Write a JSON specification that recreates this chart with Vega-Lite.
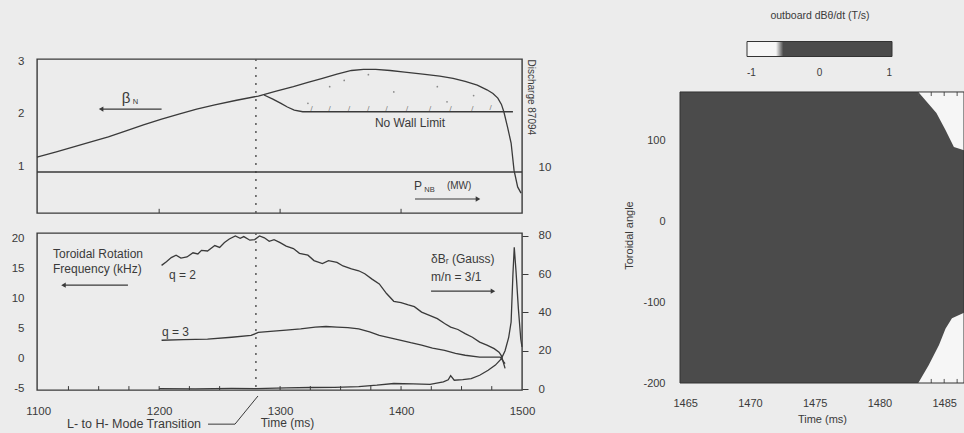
{
  "$schema": "https://vega.github.io/schema/vega-lite/v6.json",
  "background": "#ececec",
  "padding": {"left": 10, "top": 11, "right": 0, "bottom": 4},
  "config": {
    "font": "Liberation Sans",
    "view": {"stroke": "#3a3a3a", "strokeWidth": 1.4},
    "axis": {"grid": false, "domain": false, "labelColor": "#3a3a3a", "titleColor": "#3a3a3a", "labelFontSize": 11.5, "titleFontSize": 12, "titleFontWeight": "normal", "tickColor": "#3a3a3a", "labelFont": "Liberation Sans", "titleFont": "Liberation Sans", "labelOverlap": false, "labelFlush": false},
    "text": {"font": "Liberation Sans", "color": "#3a3a3a"}
  },
  "datasets": {
    "beta": [{"t":1099,"b":1.17},{"t":1115,"b":1.27},{"t":1130,"b":1.37},{"t":1145,"b":1.47},{"t":1158,"b":1.56},{"t":1172,"b":1.67},{"t":1187,"b":1.79},{"t":1202,"b":1.90},{"t":1217,"b":2.00},{"t":1231,"b":2.09},{"t":1246,"b":2.17},{"t":1264,"b":2.26},{"t":1282,"b":2.34},{"t":1296,"b":2.43},{"t":1311,"b":2.52},{"t":1323,"b":2.60},{"t":1335,"b":2.68},{"t":1347,"b":2.76},{"t":1359,"b":2.83},{"t":1369,"b":2.85},{"t":1379,"b":2.85},{"t":1391,"b":2.83},{"t":1403,"b":2.80},{"t":1418,"b":2.76},{"t":1432,"b":2.72},{"t":1443,"b":2.68},{"t":1453,"b":2.62},{"t":1463,"b":2.55},{"t":1471,"b":2.46},{"t":1476,"b":2.39},{"t":1480,"b":2.30},{"t":1483,"b":2.18},{"t":1485,"b":2.04},{"t":1488,"b":1.75},{"t":1491,"b":1.44},{"t":1493.4,"b":0.92},{"t":1496.4,"b":0.60},{"t":1499.2,"b":0.48}],
    "nowall": [{"t":1286.7,"b":2.36},{"t":1294,"b":2.28},{"t":1300.7,"b":2.20},{"t":1306,"b":2.13},{"t":1311.7,"b":2.07},{"t":1318.7,"b":2.04},{"t":1492.5,"b":2.04}],
    "pnb": [{"t":1099,"p":9.1},{"t":1500,"p":9.1}],
    "hatch": [{"t":1326,"b":2.10},{"t":1341,"b":2.10},{"t":1357,"b":2.10},{"t":1373,"b":2.10},{"t":1388,"b":2.10},{"t":1405,"b":2.10},{"t":1424,"b":2.10},{"t":1441,"b":2.10},{"t":1459,"b":2.10},{"t":1474,"b":2.11}],
    "dots": [{"t":1353,"b":2.64},{"t":1341,"b":2.52},{"t":1394,"b":2.42},{"t":1430,"b":2.52},{"t":1438,"b":2.23},{"t":1323,"b":2.20},{"t":1373,"b":2.75},{"t":1460,"b":2.35}],
    "lh": [{"t":1280}],
    "topTicks": [{"t":1200,"b0":0.1,"b1":0.18},{"t":1300,"b0":0.1,"b1":0.18},{"t":1400,"b0":0.1,"b1":0.18}],
    "botTicks": [{"t":1125,"f0":-5.2,"f1":-4.55},{"t":1150,"f0":-5.2,"f1":-4.55},{"t":1175,"f0":-5.2,"f1":-4.55},{"t":1200,"f0":-5.2,"f1":-4.55},{"t":1225,"f0":-5.2,"f1":-4.55},{"t":1250,"f0":-5.2,"f1":-4.55},{"t":1300,"f0":-5.2,"f1":-4.55},{"t":1325,"f0":-5.2,"f1":-4.55},{"t":1350,"f0":-5.2,"f1":-4.55},{"t":1375,"f0":-5.2,"f1":-4.55},{"t":1400,"f0":-5.2,"f1":-4.55},{"t":1425,"f0":-5.2,"f1":-4.55},{"t":1450,"f0":-5.2,"f1":-4.55},{"t":1475,"f0":-5.2,"f1":-4.55}],
    "topBig": [{"t":1407.4,"b":1.82,"label":"No Wall Limit"},{"t":1414,"b":0.62,"label":"P"}],
    "topMid": [{"t":1448,"b":0.62,"label":"(MW)"}],
    "topSub": [{"t":1180.5,"b":2.22,"label":"N"},{"t":1423.5,"b":0.54,"label":"NB"}],
    "topBeta": [{"t":1172.6,"b":2.30,"label":"β"}],
    "topArrowL": [{"t":1152,"t2":1202,"b":2.09}],
    "topArrowR": [{"t":1411.5,"t2":1463.6,"b":0.368}],
    "q2": [{"t":1202,"f":15.6},{"t":1206,"f":16.2},{"t":1210,"f":16.9},{"t":1214,"f":17.3},{"t":1218,"f":16.8},{"t":1223,"f":17.0},{"t":1228,"f":17.7},{"t":1232,"f":17.5},{"t":1235,"f":18.1},{"t":1240,"f":18.0},{"t":1246,"f":18.9},{"t":1250,"f":18.6},{"t":1254,"f":19.4},{"t":1258,"f":20.0},{"t":1263,"f":20.5},{"t":1267,"f":20.1},{"t":1270,"f":20.4},{"t":1275,"f":19.8},{"t":1279,"f":19.9},{"t":1283,"f":20.5},{"t":1287,"f":20.2},{"t":1291,"f":19.6},{"t":1295,"f":19.9},{"t":1300,"f":19.4},{"t":1305,"f":18.8},{"t":1311,"f":18.4},{"t":1316,"f":17.6},{"t":1323,"f":17.3},{"t":1328,"f":16.4},{"t":1335,"f":15.9},{"t":1340,"f":16.4},{"t":1347,"f":16.1},{"t":1352,"f":15.5},{"t":1359,"f":15.0},{"t":1365,"f":14.7},{"t":1370,"f":14.2},{"t":1376,"f":13.3},{"t":1382,"f":12.5},{"t":1388,"f":10.9},{"t":1394,"f":9.6},{"t":1400,"f":9.4},{"t":1406,"f":9.0},{"t":1411,"f":8.7},{"t":1417,"f":7.8},{"t":1423,"f":7.3},{"t":1430,"f":6.7},{"t":1436,"f":5.9},{"t":1441,"f":5.3},{"t":1447,"f":4.9},{"t":1453,"f":4.2},{"t":1459,"f":3.6},{"t":1465,"f":2.8},{"t":1471,"f":2.3},{"t":1477,"f":1.7},{"t":1481,"f":1.1},{"t":1483,"f":0.5},{"t":1486,"f":-1.6}],
    "q3": [{"t":1202,"f":3.1},{"t":1220,"f":3.2},{"t":1240,"f":3.3},{"t":1260,"f":3.6},{"t":1276,"f":3.9},{"t":1282,"f":4.4},{"t":1292,"f":4.6},{"t":1305,"f":4.8},{"t":1317,"f":5.0},{"t":1329,"f":5.3},{"t":1338,"f":5.4},{"t":1347,"f":5.3},{"t":1356,"f":5.2},{"t":1365,"f":5.0},{"t":1374,"f":4.5},{"t":1382,"f":3.9},{"t":1391,"f":3.5},{"t":1400,"f":3.1},{"t":1408,"f":2.7},{"t":1417,"f":2.3},{"t":1426,"f":1.8},{"t":1436,"f":1.4},{"t":1445,"f":0.9},{"t":1453,"f":0.6},{"t":1465,"f":0.3},{"t":1477,"f":0.3},{"t":1482,"f":0.3},{"t":1486,"f":-0.8}],
    "dbr": [{"t":1200,"g":0.2},{"t":1230,"g":0.1},{"t":1260,"g":0.3},{"t":1280,"g":0.2},{"t":1305,"g":0.6},{"t":1325,"g":0.8},{"t":1345,"g":0.9},{"t":1365,"g":1.3},{"t":1380,"g":2.0},{"t":1394,"g":2.9},{"t":1410,"g":2.7},{"t":1424,"g":2.4},{"t":1435,"g":3.7},{"t":1439,"g":4.8},{"t":1441,"g":7.0},{"t":1444,"g":4.6},{"t":1451,"g":4.9},{"t":1458,"g":5.4},{"t":1465,"g":7.2},{"t":1472,"g":9.8},{"t":1478,"g":12.5},{"t":1483,"g":15.9},{"t":1486,"g":20},{"t":1489,"g":27},{"t":1491,"g":35},{"t":1492.5,"g":60},{"t":1493.6,"g":74},{"t":1495,"g":62},{"t":1497,"g":42},{"t":1499,"g":26},{"t":1500,"g":22}],
    "botText": [{"t":1112.2,"f":17.5,"label":"Toroidal Rotation"},{"t":1112.2,"f":15.0,"label":"Frequency (kHz)"},{"t":1208.1,"f":14.0,"label":"q = 2"},{"t":1202.3,"f":4.5,"label":"q = 3"},{"t":1424.8,"f":16.7,"label":"δBᵣ (Gauss)"},{"t":1424.8,"f":13.65,"label":"m/n = 3/1"}],
    "botBelow": [{"t":1179.2,"f":-10.9,"label":"L- to H- Mode Transition"}],
    "leader": [{"t":1240.4,"f":-10.9},{"t":1262.7,"f":-10.9},{"t":1281.7,"f":-6.2}],
    "botArrowL": [{"t":1120.9,"t2":1174.2,"f":12.3}],
    "botArrowR": [{"t":1424.8,"t2":1476,"f":11.3}],
    "dark": [{"t0":1464.6,"t1":1486.53,"a0":-200,"a1":160,"v":1}],
    "heatTicks": [{"t":1483,"a0":155,"a1":160},{"t":1484,"a0":155,"a1":160},{"t":1485,"a0":155,"a1":160},{"t":1486,"a0":155,"a1":160},{"t":1484,"a0":-200,"a1":-195},{"t":1485,"a0":-200,"a1":-195},{"t":1486,"a0":-200,"a1":-195}],
    "wtop": [{"t":1483.0,"a":160,"a2":160,"v":-1},{"t":1483.7,"a":147,"a2":160,"v":-1},{"t":1484.4,"a":134,"a2":160,"v":-1},{"t":1485.1,"a":113,"a2":160,"v":-1},{"t":1485.75,"a":92,"a2":160,"v":-1},{"t":1486.53,"a":88,"a2":160,"v":-1}],
    "wbot": [{"t":1483.0,"a":-200,"a2":-200,"v":-1},{"t":1483.8,"a":-178,"a2":-200,"v":-1},{"t":1484.6,"a":-153,"a2":-200,"v":-1},{"t":1485.1,"a":-133,"a2":-200,"v":-1},{"t":1485.6,"a":-120,"a2":-200,"v":-1},{"t":1486.53,"a":-113,"a2":-200,"v":-1}]
  },
  "spacing": 71,
  "resolve": {"scale": {"color": "independent"}, "legend": {"color": "independent"}},
  "hconcat": [
    {
      "spacing": 14,
      "vconcat": [
        {
          "width": 485,
          "height": 154,
          "resolve": {"scale": {"y": "independent"}},
          "layer": [
            {
              "layer": [
                {"data": {"name": "beta"}, "mark": {"type": "line", "color": "#3a3a3a", "strokeWidth": 1.3},
                 "encoding": {
                   "x": {"field": "t", "type": "quantitative", "scale": {"domain": [1099, 1500], "nice": false, "zero": false}, "axis": null},
                   "y": {"field": "b", "type": "quantitative", "scale": {"domain": [0.1, 3.05], "nice": false, "zero": false}, "axis": {"values": [1, 2, 3], "tickCount": 12, "labelExpr": "'' + datum.value", "ticks": false, "labelPadding": 13, "labelOverlap": false, "title": null}}}},
                {"data": {"name": "nowall"}, "mark": {"type": "line", "color": "#3a3a3a", "strokeWidth": 1.3},
                 "encoding": {"x": {"field": "t", "type": "quantitative"}, "y": {"field": "b", "type": "quantitative"}}},
                {"data": {"name": "hatch"}, "mark": {"type": "text", "text": "/", "fontSize": 8, "color": "#7a7a7a"},
                 "encoding": {"x": {"field": "t", "type": "quantitative"}, "y": {"field": "b", "type": "quantitative"}}},
                {"data": {"name": "dots"}, "mark": {"type": "circle", "size": 3, "color": "#8a8a8a", "opacity": 1},
                 "encoding": {"x": {"field": "t", "type": "quantitative"}, "y": {"field": "b", "type": "quantitative"}}},
                {"data": {"name": "topTicks"}, "mark": {"type": "rule", "color": "#3a3a3a", "strokeWidth": 1},
                 "encoding": {"x": {"field": "t", "type": "quantitative"}, "y": {"field": "b0", "type": "quantitative"}, "y2": {"field": "b1"}}},
                {"data": {"name": "lh"}, "mark": {"type": "rule", "color": "#555555", "strokeWidth": 1.5, "strokeDash": [2, 6]},
                 "encoding": {"x": {"field": "t", "type": "quantitative"}}},
                {"data": {"name": "topBig"}, "mark": {"type": "text", "fontSize": 12, "align": "center", "baseline": "middle"},
                 "encoding": {"x": {"field": "t", "type": "quantitative"}, "y": {"field": "b", "type": "quantitative"}, "text": {"field": "label"}}},
                {"data": {"name": "topMid"}, "mark": {"type": "text", "fontSize": 10, "align": "center", "baseline": "middle"},
                 "encoding": {"x": {"field": "t", "type": "quantitative"}, "y": {"field": "b", "type": "quantitative"}, "text": {"field": "label"}}},
                {"data": {"name": "topSub"}, "mark": {"type": "text", "fontSize": 7.5, "align": "center", "baseline": "middle"},
                 "encoding": {"x": {"field": "t", "type": "quantitative"}, "y": {"field": "b", "type": "quantitative"}, "text": {"field": "label"}}},
                {"data": {"name": "topBeta"}, "mark": {"type": "text", "fontSize": 15, "align": "center", "baseline": "middle"},
                 "encoding": {"x": {"field": "t", "type": "quantitative"}, "y": {"field": "b", "type": "quantitative"}, "text": {"field": "label"}}},
                {"data": {"name": "topArrowL"}, "mark": {"type": "rule", "color": "#3a3a3a", "strokeWidth": 1.2},
                 "encoding": {"x": {"field": "t", "type": "quantitative"}, "x2": {"field": "t2"}, "y": {"field": "b", "type": "quantitative"}}},
                {"data": {"name": "topArrowL"}, "mark": {"type": "point", "shape": "triangle-left", "filled": true, "size": 28, "color": "#3a3a3a", "opacity": 1},
                 "encoding": {"x": {"field": "t", "type": "quantitative"}, "y": {"field": "b", "type": "quantitative"}}},
                {"data": {"name": "topArrowR"}, "mark": {"type": "rule", "color": "#3a3a3a", "strokeWidth": 1.2},
                 "encoding": {"x": {"field": "t", "type": "quantitative"}, "x2": {"field": "t2"}, "y": {"field": "b", "type": "quantitative"}}},
                {"data": {"name": "topArrowR"}, "mark": {"type": "point", "shape": "triangle-right", "filled": true, "size": 28, "color": "#3a3a3a", "opacity": 1},
                 "encoding": {"x": {"field": "t2", "type": "quantitative"}, "y": {"field": "b", "type": "quantitative"}}}
              ]
            },
            {"data": {"name": "pnb"}, "mark": {"type": "line", "color": "#3a3a3a", "strokeWidth": 1.3},
             "encoding": {
               "x": {"field": "t", "type": "quantitative"},
               "y": {"field": "p", "type": "quantitative", "scale": {"domain": [0, 34.2], "nice": false, "zero": false}, "axis": {"orient": "right", "values": [10], "ticks": false, "labelPadding": 16, "title": "Discharge 87094", "titleFontSize": 10, "titleAngle": 90, "titleAlign": "left", "titleBaseline": "bottom", "titleX": 3, "titleY": 0}}}}
          ]
        },
        {
          "width": 485,
          "height": 157,
          "resolve": {"scale": {"y": "independent"}},
          "layer": [
            {
              "layer": [
                {"data": {"name": "q2"}, "mark": {"type": "line", "color": "#3a3a3a", "strokeWidth": 1.3},
                 "encoding": {
                   "x": {"field": "t", "type": "quantitative", "scale": {"domain": [1099, 1500], "nice": false, "zero": false}, "axis": {"values": [1100, 1200, 1300, 1400, 1500], "tickCount": 12, "format": "d", "ticks": false, "labelPadding": 15, "labelOverlap": false, "title": "Time (ms)", "titlePadding": 1, "titleX": 250}},
                   "y": {"field": "f", "type": "quantitative", "scale": {"domain": [-5.2, 21.0], "nice": false, "zero": false}, "axis": {"values": [-5, 0, 5, 10, 15, 20], "tickCount": 12, "labelExpr": "'' + datum.value", "ticks": false, "labelPadding": 13, "labelOverlap": false, "title": null}}}},
                {"data": {"name": "q3"}, "mark": {"type": "line", "color": "#3a3a3a", "strokeWidth": 1.3},
                 "encoding": {"x": {"field": "t", "type": "quantitative"}, "y": {"field": "f", "type": "quantitative"}}},
                {"data": {"name": "botTicks"}, "mark": {"type": "rule", "color": "#3a3a3a", "strokeWidth": 1},
                 "encoding": {"x": {"field": "t", "type": "quantitative"}, "y": {"field": "f0", "type": "quantitative"}, "y2": {"field": "f1"}}},
                {"data": {"name": "lh"}, "mark": {"type": "rule", "color": "#555555", "strokeWidth": 1.5, "strokeDash": [2, 6]},
                 "encoding": {"x": {"field": "t", "type": "quantitative"}}},
                {"data": {"name": "botText"}, "mark": {"type": "text", "fontSize": 12, "align": "left", "baseline": "middle"},
                 "encoding": {"x": {"field": "t", "type": "quantitative"}, "y": {"field": "f", "type": "quantitative"}, "text": {"field": "label"}}},
                {"data": {"name": "botBelow"}, "mark": {"type": "text", "fontSize": 12.5, "align": "center", "baseline": "middle"},
                 "encoding": {"x": {"field": "t", "type": "quantitative"}, "y": {"field": "f", "type": "quantitative"}, "text": {"field": "label"}}},
                {"data": {"name": "leader"}, "mark": {"type": "line", "color": "#3a3a3a", "strokeWidth": 1},
                 "encoding": {"x": {"field": "t", "type": "quantitative"}, "y": {"field": "f", "type": "quantitative"}}},
                {"data": {"name": "botArrowL"}, "mark": {"type": "rule", "color": "#3a3a3a", "strokeWidth": 1.2},
                 "encoding": {"x": {"field": "t", "type": "quantitative"}, "x2": {"field": "t2"}, "y": {"field": "f", "type": "quantitative"}}},
                {"data": {"name": "botArrowL"}, "mark": {"type": "point", "shape": "triangle-left", "filled": true, "size": 28, "color": "#3a3a3a", "opacity": 1},
                 "encoding": {"x": {"field": "t", "type": "quantitative"}, "y": {"field": "f", "type": "quantitative"}}},
                {"data": {"name": "botArrowR"}, "mark": {"type": "rule", "color": "#3a3a3a", "strokeWidth": 1.2},
                 "encoding": {"x": {"field": "t", "type": "quantitative"}, "x2": {"field": "t2"}, "y": {"field": "f", "type": "quantitative"}}},
                {"data": {"name": "botArrowR"}, "mark": {"type": "point", "shape": "triangle-right", "filled": true, "size": 28, "color": "#3a3a3a", "opacity": 1},
                 "encoding": {"x": {"field": "t2", "type": "quantitative"}, "y": {"field": "f", "type": "quantitative"}}}
              ]
            },
            {"data": {"name": "dbr"}, "mark": {"type": "line", "color": "#3a3a3a", "strokeWidth": 1.3},
             "encoding": {
               "x": {"field": "t", "type": "quantitative"},
               "y": {"field": "g", "type": "quantitative", "scale": {"domain": [-0.5, 81.5], "nice": false, "zero": false}, "axis": {"orient": "right", "values": [0, 20, 40, 60, 80], "tickCount": 12, "tickSize": 6, "labelPadding": 10, "labelOverlap": false, "title": null}}}}
          ]
        }
      ]
    },
    {
      "width": 284,
      "height": 324,
      "view": {"stroke": null},
      "layer": [
        {"data": {"name": "dark"}, "mark": {"type": "rect"},
         "encoding": {
           "x": {"field": "t0", "type": "quantitative", "scale": {"domain": [1464.6, 1486.53], "nice": false, "zero": false}, "axis": {"values": [1465, 1470, 1475, 1480, 1485], "tickCount": 12, "format": "d", "ticks": false, "labelPadding": 14, "labelFontSize": 11, "title": "Time (ms)", "titleFontSize": 11, "titlePadding": 5}},
           "x2": {"field": "t1"},
           "y": {"field": "a0", "type": "quantitative", "scale": {"domain": [-200, 200.8], "nice": false, "zero": false}, "axis": {"values": [-200, -100, 0, 100], "tickCount": 12, "labelExpr": "'' + datum.value", "ticks": false, "labelPadding": 15, "labelFontSize": 11, "title": "Toroidal angle", "titleFontSize": 11, "titleY": 176, "titlePadding": 8}},
           "y2": {"field": "a1"},
           "color": {"field": "v", "type": "quantitative", "scale": {"domain": [-1, -0.6, -0.5, 1], "range": ["#f6f6f6", "#f6f6f6", "#4b4b4b", "#4b4b4b"]},
             "legend": {"orient": "none", "legendX": 67, "legendY": -48, "direction": "horizontal", "gradientLength": 145, "gradientThickness": 15, "values": [-1, 0, 1], "labelExpr": "'' + datum.value", "title": "outboard dBθ/dt  (T/s)", "titleFontSize": 10.5, "titleFontWeight": "normal", "titleAnchor": "middle", "titlePadding": 20, "labelFontSize": 10, "gradientStrokeColor": "#333333", "gradientStrokeWidth": 1, "padding": 0, "labelOffset": 11, "titleColor": "#3a3a3a", "labelColor": "#3a3a3a"}}}},
        {"data": {"name": "wtop"}, "mark": {"type": "area", "opacity": 1},
         "encoding": {"x": {"field": "t", "type": "quantitative"}, "y": {"field": "a", "type": "quantitative"}, "y2": {"field": "a2"}, "color": {"field": "v", "type": "quantitative", "legend": null}}},
        {"data": {"name": "wbot"}, "mark": {"type": "area", "opacity": 1},
         "encoding": {"x": {"field": "t", "type": "quantitative"}, "y": {"field": "a", "type": "quantitative"}, "y2": {"field": "a2"}, "color": {"field": "v", "type": "quantitative", "legend": null}}},
        {"data": {"name": "heatTicks"}, "mark": {"type": "rule", "color": "#555555", "strokeWidth": 1},
         "encoding": {"x": {"field": "t", "type": "quantitative"}, "y": {"field": "a0", "type": "quantitative"}, "y2": {"field": "a1"}}},
        {"data": {"name": "dark"}, "mark": {"type": "rect", "fill": null, "stroke": "#333333", "strokeWidth": 1},
         "encoding": {"x": {"field": "t0", "type": "quantitative"}, "x2": {"field": "t1"}, "y": {"field": "a0", "type": "quantitative"}, "y2": {"field": "a1"}}}
      ]
    }
  ]
}
